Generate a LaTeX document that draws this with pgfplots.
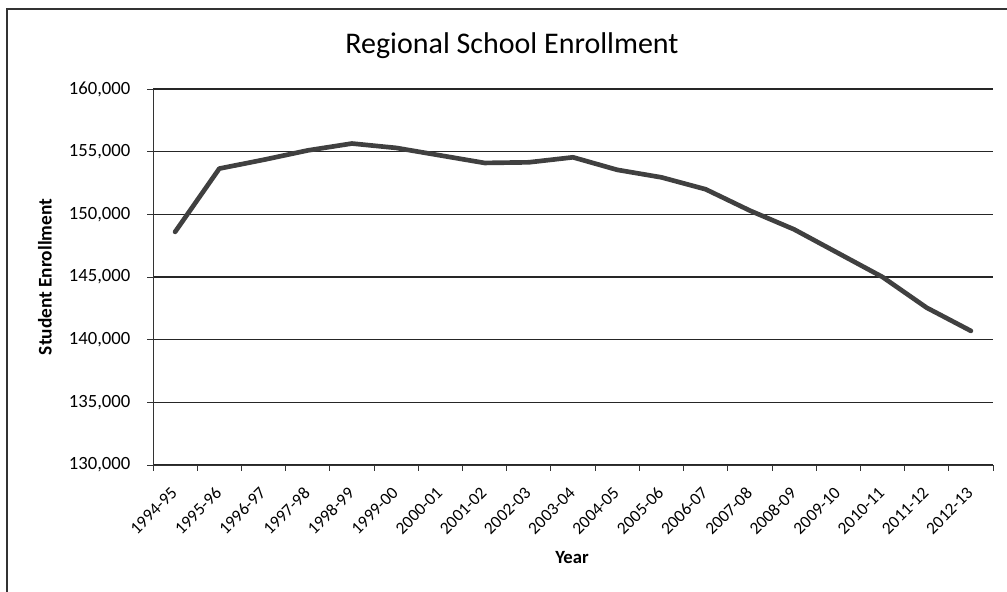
\documentclass[border=0pt]{standalone}
\usepackage{pgfplots}
\pgfplotsset{compat=1.18}
\usepackage{fontspec}
\setmainfont{Carlito}

\definecolor{linegray}{HTML}{404040}

\begin{document}
\begin{tikzpicture}[x=0.75pt,y=0.75pt]
\useasboundingbox (0,0) rectangle (1007,592);
% outer chart frame
\draw[black!80, line width=0.8pt] (7,-2) -- (7,583) -- (1009,583);

\begin{axis}[
  at={(114.75pt,95.25pt)}, anchor=south west,
  scale only axis, width=630pt, height=282pt,
  xmin=-0.5, xmax=18.5,
  ymin=130000, ymax=160000,
  ytick={130000,135000,...,160000},
  xtick={0,...,18},
  xticklabels={1994-95,1995-96,1996-97,1997-98,1998-99,1999-00,2000-01,2001-02,2002-03,2003-04,2004-05,2005-06,2006-07,2007-08,2008-09,2009-10,2010-11,2011-12,2012-13},
  minor xtick={-0.5,0.5,...,18.5},
  major x tick style={draw=none},
  minor tick length=4.5pt,
  major tick length=4.5pt,
  tick align=outside,
  axis x line*=bottom, axis y line*=left,
  axis line style={black!80, line width=0.6pt, -},
  tick style={black!80, line width=0.6pt},
  ymajorgrids,
  grid style={black!85, line width=0.8pt},
  scaled y ticks=false,
  /pgf/number format/.cd, fixed, 1000 sep={,}, assume math mode=true,
  /pgfplots/.cd,
  yticklabel style={font=\fontsize{14}{16}\selectfont, xshift=-9pt},
  xticklabel style={font=\fontsize{13}{15}\selectfont, xshift=-3.75pt, yshift=-9.75pt, rotate=45, anchor=north east, inner sep=1pt},
  clip=false,
]
\addplot[linegray, line width=3.5pt, line join=round, line cap=round] coordinates {
  (0,148600) (1,153650) (2,154350) (3,155100) (4,155650) (5,155300)
  (6,154700) (7,154100) (8,154150) (9,154550) (10,153550) (11,152950)
  (12,152000) (13,150300) (14,148800) (15,146900) (16,145000) (17,142550)
  (18,140700)
};
\end{axis}

\node[font=\fontsize{22.5}{27}\selectfont] at (512,546) {Regional School Enrollment};
\node[font=\fontsize{14.5}{17}\selectfont\bfseries, rotate=90] at (45,315) {Student Enrollment};
\node[font=\fontsize{14}{16}\selectfont\bfseries] at (572,34) {Year};
\end{tikzpicture}
\end{document}
